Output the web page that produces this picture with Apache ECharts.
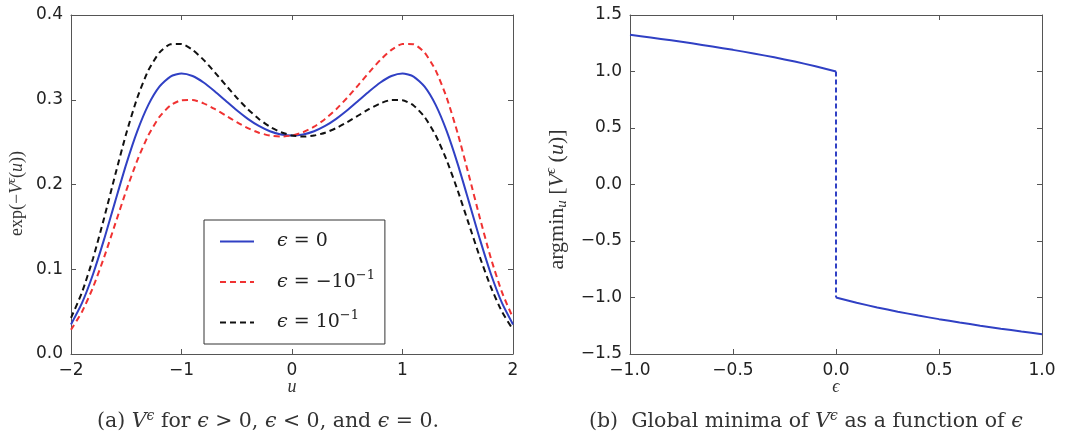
<!DOCTYPE html>
<html>
<head>
<meta charset="utf-8">
<script src="https://cdn.jsdelivr.net/npm/echarts@6/dist/echarts.min.js"></script>
<style>
html,body{margin:0;padding:0;background:#fff;}
#chart{width:1088px;height:436px;}
</style>
</head>
<body>
<div id="chart"></div>
<script>
// ---------- data ----------
const uValues = [-2.0,-1.9,-1.8,-1.7,-1.6,-1.5,-1.4,-1.3,-1.2,-1.1,-1.0,-0.9,-0.8,-0.7,-0.6,-0.5,-0.4,-0.3,-0.2,-0.1,0.0,
                 0.1,0.2,0.3,0.4,0.5,0.6,0.7,0.8,0.9,1.0,1.1,1.2,1.3,1.4,1.5,1.6,1.7,1.8,1.9,2.0];
const densityEps0 = [0.0349,0.0603,0.0944,0.1355,0.1801,0.2240,0.2629,0.2939,0.3154,0.3274,0.3310,0.3280,0.3204,0.3101,0.2988,0.2876,0.2775,0.2691,0.2629,0.2591,0.2578,
                     0.2591,0.2629,0.2691,0.2775,0.2876,0.2988,0.3101,0.3204,0.3280,0.3310,0.3274,0.3154,0.2939,0.2629,0.2240,0.1801,0.1355,0.0944,0.0603,0.0349];
const densityEpsNeg = [0.0286,0.0499,0.0789,0.1143,0.1535,0.1928,0.2286,0.2581,0.2797,0.2933,0.2995,0.2998,0.2958,0.2891,0.2814,0.2736,0.2666,0.2611,0.2577,0.2565,0.2578,
                       0.2617,0.2682,0.2773,0.2888,0.3024,0.3173,0.3326,0.3471,0.3589,0.3658,0.3655,0.3556,0.3347,0.3024,0.2602,0.2113,0.1606,0.1130,0.0729,0.0426];
const densityEpsPos = [0.0426,0.0729,0.1130,0.1606,0.2113,0.2602,0.3024,0.3347,0.3556,0.3655,0.3658,0.3589,0.3471,0.3326,0.3173,0.3024,0.2888,0.2773,0.2682,0.2617,0.2578,
                       0.2565,0.2577,0.2611,0.2666,0.2736,0.2814,0.2891,0.2958,0.2998,0.2995,0.2933,0.2797,0.2581,0.2286,0.1928,0.1535,0.1143,0.0789,0.0499,0.0286];

const epsNegative = [-1.0,-0.9,-0.8,-0.7,-0.6,-0.5,-0.4,-0.3,-0.2,-0.1,0.0];
const argminNegative = [1.3247,1.3007,1.2756,1.2492,1.2211,1.1915,1.1597,1.1254,1.0880,1.0467,1.0];
const epsPositive = [0.0,0.1,0.2,0.3,0.4,0.5,0.6,0.7,0.8,0.9,1.0];
const argminPositive = [-1.0,-1.0467,-1.0880,-1.1254,-1.1597,-1.1915,-1.2211,-1.2492,-1.2756,-1.3007,-1.3247];
const jumpEps = [0.0,0.0];
const jumpArgmin = [1.0,-1.0];

const seriesNames = ['ϵ = 0','ϵ = −10⁻¹','ϵ = 10⁻¹'];
const legendRich = {
  'ϵ = 0':'{i|ϵ}{r| = 0}',
  'ϵ = −10⁻¹':'{i|ϵ}{r| = −10}{s|−1}',
  'ϵ = 10⁻¹':'{i|ϵ}{r| = 10}{s|−1}'
};

// ---------- helpers ----------
const pairs = (xs, ys) => xs.map((x, i) => [x, ys[i]]);
const fmt = d => v => (v < -1e-9 ? '\u2212' : '') + Math.abs(v).toFixed(d);

const FRAME = '#555';
const TICKFONT = {fontFamily:'DejaVu Sans', fontSize:17, color:'#222'};
const SERIF = 'Liberation Serif';
const SERIF2 = 'DejaVu Serif';
function mathRich(size, fam) {
  fam = fam || SERIF;
  return {
    r:{fontFamily:fam, fontSize:size, fontWeight:'normal', color:'#333'},
    i:{fontFamily:fam, fontSize:size, fontWeight:'normal', fontStyle:'italic', color:'#333'},
    s:{fontFamily:fam, fontSize:Math.round(size*0.66), fontWeight:'normal', fontStyle:'italic', color:'#333', verticalAlign:'top', lineHeight:size+4},
    b:{fontFamily:fam, fontSize:Math.round(size*0.66), fontWeight:'normal', fontStyle:'italic', color:'#333', verticalAlign:'bottom', lineHeight:size+4}
  };
}

function mainX(grid, min, max, interval, dec, name) {
  return {
    type:'value', gridIndex:grid, min, max, interval, position:'bottom',
    axisLine:{show:true, onZero:false, lineStyle:{color:FRAME, width:1}},
    axisTick:{show:true, inside:true, length:5, lineStyle:{color:FRAME}},
    axisLabel:Object.assign({margin:8, formatter:fmt(dec), showMinLabel:true, showMaxLabel:true}, TICKFONT),
    splitLine:{show:false},
    name, nameLocation:'middle', nameGap:24, nameMoveOverlap:false,
    nameTextStyle:{rich:mathRich(18)}
  };
}
function sideX(grid, min, max, interval) {
  return {
    type:'value', gridIndex:grid, min, max, interval, position:'top',
    axisLine:{show:true, onZero:false, lineStyle:{color:FRAME, width:1}},
    axisTick:{show:true, inside:true, length:5, lineStyle:{color:FRAME}},
    axisLabel:{show:false}, splitLine:{show:false}
  };
}
function mainY(grid, min, max, interval, dec, name, gap, size, pad) {
  return {
    type:'value', gridIndex:grid, min, max, interval, position:'left',
    axisLine:{show:true, onZero:false, lineStyle:{color:FRAME, width:1}},
    axisTick:{show:true, inside:true, length:5, lineStyle:{color:FRAME}},
    axisLabel:Object.assign({margin:8, formatter:fmt(dec), showMinLabel:true, showMaxLabel:true}, TICKFONT),
    splitLine:{show:false},
    name, nameLocation:'middle', nameGap:gap, nameRotate:90,
    nameTextStyle:{padding:pad, rich:mathRich(size)}
  };
}
function sideY(grid, min, max, interval) {
  return {
    type:'value', gridIndex:grid, min, max, interval, position:'right',
    axisLine:{show:true, onZero:false, lineStyle:{color:FRAME, width:1}},
    axisTick:{show:true, inside:true, length:5, lineStyle:{color:FRAME}},
    axisLabel:{show:false}, splitLine:{show:false}
  };
}

const BLUE = '#3040c4', RED = '#f03232', BLACK = '#111';

const option = {
  animation:false,
  backgroundColor:'#fff',
  grid:[
    {left:71, top:15, width:442, height:339, containLabel:false, outerBoundsMode:'none'},
    {left:630, top:15, width:412, height:339, containLabel:false, outerBoundsMode:'none'}
  ],
  xAxis:[
    mainX(0, -2, 2, 1, 0, '{i|u}'),
    sideX(0, -2, 2, 1),
    mainX(1, -1, 1, 0.5, 1, '{i|ϵ}'),
    sideX(1, -1, 1, 0.5)
  ],
  yAxis:[
    mainY(0, 0, 0.4, 0.1, 1, '{r|exp(−}{i|V}{s|ϵ}{r|(}{i|u}{r|))}', 43, 18, [0,18,0,0]),
    sideY(0, 0, 0.4, 0.1),
    mainY(1, -1.5, 1.5, 0.5, 1, '{r|argmin}{b|u}{r| [}{i|V}{s|ϵ}{r| (}{i|u}{r|)]}', 60, 22, [0,30,0,0]),
    sideY(1, -1.5, 1.5, 0.5)
  ],
  legend:{
    data:seriesNames,
    orient:'vertical', left:204, top:220,
    padding:[12, 10, 12, 15],
    itemWidth:34, itemHeight:12, itemGap:18,
    borderColor:'#333', borderWidth:1, borderRadius:0,
    backgroundColor:'#fff',
    itemStyle:{opacity:0},
    formatter:n => legendRich[n],
    textStyle:{padding:[0,0,0,18], rich:{
      r:{fontFamily:SERIF2, fontSize:19, color:'#222', lineHeight:26},
      i:{fontFamily:SERIF2, fontSize:19, fontStyle:'italic', color:'#222', lineHeight:26},
      s:{fontFamily:SERIF2, fontSize:13, color:'#222', verticalAlign:'top', lineHeight:26}
    }}
  },
  title:[
    {text:'{r|(a) }{i|V}{s|ϵ}{r| for }{i|ϵ}{r| > 0, }{i|ϵ}{r| < 0, and }{i|ϵ}{r| = 0.}',
     left:97, top:409, padding:0, textStyle:{fontWeight:'normal', rich:mathRich(20.5, SERIF2)}},
    {text:'{r|(b)  Global minima of }{i|V}{s|ϵ}{r| as a function of }{i|ϵ}',
     left:589, top:409, padding:0, textStyle:{fontWeight:'normal', rich:mathRich(20.5, SERIF2)}}
  ],
  series:[
    {name:seriesNames[0], type:'line', xAxisIndex:0, yAxisIndex:0, data:pairs(uValues, densityEps0),
     symbol:'none', smooth:0.2, lineStyle:{color:BLUE, width:2}, itemStyle:{color:BLUE}, z:3},
    {name:seriesNames[1], type:'line', xAxisIndex:0, yAxisIndex:0, data:pairs(uValues, densityEpsNeg),
     symbol:'none', smooth:0.2, lineStyle:{color:RED, width:2, type:[6,4]}, itemStyle:{color:RED}, z:4},
    {name:seriesNames[2], type:'line', xAxisIndex:0, yAxisIndex:0, data:pairs(uValues, densityEpsPos),
     symbol:'none', smooth:0.2, lineStyle:{color:BLACK, width:2, type:[6,4]}, itemStyle:{color:BLACK}, z:5},
    {name:'argmin ϵ<0', type:'line', xAxisIndex:2, yAxisIndex:2, data:pairs(epsNegative, argminNegative),
     symbol:'none', smooth:0.2, lineStyle:{color:BLUE, width:2}},
    {name:'jump', type:'line', xAxisIndex:2, yAxisIndex:2, data:pairs(jumpEps, jumpArgmin),
     symbol:'none', lineStyle:{color:BLUE, width:2, type:[5,3]}},
    {name:'argmin ϵ>0', type:'line', xAxisIndex:2, yAxisIndex:2, data:pairs(epsPositive, argminPositive),
     symbol:'none', smooth:0.2, lineStyle:{color:BLUE, width:2}}
  ]
};

const chart = echarts.init(document.getElementById('chart'), null, {renderer:'canvas'});
chart.setOption(option);
</script>
</body>
</html>
